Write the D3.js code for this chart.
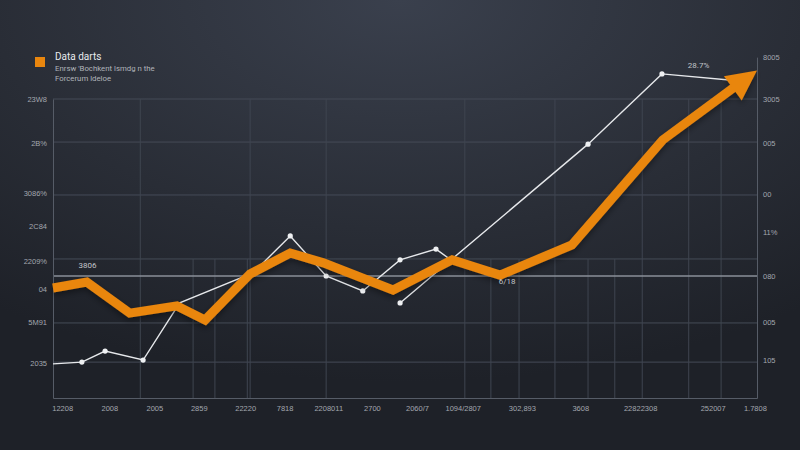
<!DOCTYPE html>
<html>
<head>
<meta charset="utf-8">
<script src="https://cdn.jsdelivr.net/npm/d3@7"></script>
<style>
  body { margin: 0; background: #23262e; }
  svg { display: block; font-family: Roboto, "DejaVu Sans", sans-serif; }
</style>
</head>
<body>
<svg id="chart"></svg>
<script>
// ---- data ----
const orangeX = [0, 4.8, 10.9, 17.6, 21.6, 28.0, 33.7, 38.4, 48.3, 56.7, 63.5, 73.7, 86.6, 100];
const orangeY = [36.8, 38.8, 28.4, 30.8, 26.1, 41.5, 48.5, 45.2, 36.1, 46.2, 41.1, 51.2, 86.3, 109.5];

const whiteAX = [0, 4.1, 7.4, 12.8, 18.0, 28.4, 33.7, 38.8, 44.0, 49.3, 54.4, 57.1];
const whiteAY = [11.4, 12.0, 15.7, 12.7, 31.8, 41.8, 54.2, 40.8, 35.8, 46.2, 49.8, 45.2];
const whiteADot = [false, true, true, true, false, false, true, true, true, true, true, false];

const whiteBX = [49.3, 76.0, 86.5, 97.6];
const whiteBY = [31.8, 84.9, 108.4, 106.0];
const whiteBDot = [true, true, true, false];

const leftTicks = [100, 85.3, 68.6, 57.5, 45.8, 36.5, 25.4, 11.7];
const leftLabels = ["23W8", "2B%", "3086%", "2C84", "2209%", "04", "5M91", "2035"];

const rightTicks = [114, 100, 85.3, 68.2, 55.5, 40.8, 25.4, 12.7];
const rightLabels = ["8005", "3005", "005", "00", "11%", "080", "005", "105"];

const bottomTicks = [1.3, 8.0, 14.4, 20.7, 27.3, 32.9, 39.1, 45.3, 51.7, 58.2, 66.6, 74.9, 83.4, 93.7, 99.7];
const bottomLabels = ["12208", "2008", "2005", "2859", "22220", "7818", "2208011", "2700",
  "2060/7", "1094/2807", "302,893", "3608", "22822308", "252007", "1.7808"];

const hGrid = [100, 85.6, 67.9, 46.5, 25.1, 12.0];
const refLine = 40.8;
const vGridFull = [12.4, 28.0, 38.8, 58.5, 71.3, 83.7, 90.3, 94.9];
const vGridPart = [19.9, 23.0, 27.6, 62.2, 66.2, 76.0, 79.8];

const notes = [
  { x: 4.9, y: 43.5, text: "3806" },
  { x: 91.7, y: 110.5, text: "28.7%" },
  { x: 64.5, y: 38.0, text: "6/18" },
];

// ---- layout ----
const W = 800, H = 450;
const margin = { top: 99, right: 43, bottom: 52, left: 53 };

const svg = d3.select("#chart").attr("width", W).attr("height", H);

const defs = svg.append("defs");
const bg = defs.append("radialGradient").attr("id", "bg")
  .attr("cx", "50%").attr("cy", "0%").attr("r", "85%");
bg.append("stop").attr("offset", "0%").attr("stop-color", "#3a404d");
bg.append("stop").attr("offset", "60%").attr("stop-color", "#292d36");
bg.append("stop").attr("offset", "100%").attr("stop-color", "#1e2128");

const shadow = defs.append("filter").attr("id", "shadow")
  .attr("x", "-10%").attr("y", "-10%").attr("width", "120%").attr("height", "130%");
shadow.append("feDropShadow").attr("dx", 0).attr("dy", 3).attr("stdDeviation", 3)
  .attr("flood-color", "#000").attr("flood-opacity", 0.4);

svg.append("rect").attr("width", W).attr("height", H).attr("fill", "url(#bg)");

const x = d3.scaleLinear().domain([0, 100]).range([margin.left, W - margin.right]);
const y = d3.scaleLinear().domain([0, 100]).range([H - margin.bottom, margin.top]);

const grid = svg.append("g");

// horizontal grid
grid.selectAll("line.h").data(hGrid).join("line")
  .attr("x1", x(0)).attr("x2", x(100))
  .attr("y1", (d) => y(d)).attr("y2", (d) => y(d))
  .attr("stroke", "#454b57").attr("stroke-width", 1);

// vertical grid
grid.selectAll("line.vf").data(vGridFull).enter().append("line")
  .attr("x1", (d) => x(d)).attr("x2", (d) => x(d))
  .attr("y1", y(100)).attr("y2", y(0))
  .attr("stroke", "#3f4550").attr("stroke-width", 1);
grid.selectAll("line.vp").data(vGridPart).enter().append("line")
  .attr("x1", (d) => x(d)).attr("x2", (d) => x(d))
  .attr("y1", y(46.5)).attr("y2", y(0))
  .attr("stroke", "#3f4550").attr("stroke-width", 1);

// reference line
svg.append("line")
  .attr("x1", x(0)).attr("x2", x(100))
  .attr("y1", y(refLine)).attr("y2", y(refLine))
  .attr("stroke", "#8a8f98").attr("stroke-width", 1.3);

// axes
const yLeft = d3.axisLeft(y).tickValues(leftTicks).tickSize(0).tickPadding(6)
  .tickFormat((d, i) => leftLabels[i]);
const yRight = d3.axisRight(d3.scaleLinear().domain([0, 114]).range([y(0), y(114)]))
  .tickValues(rightTicks).tickSize(0).tickPadding(6)
  .tickFormat((d, i) => rightLabels[i]);
const xBottom = d3.axisBottom(x).tickValues(bottomTicks).tickSize(0).tickPadding(8)
  .tickFormat((d, i) => bottomLabels[i]);

function styleAxis(g) {
  g.select(".domain").attr("stroke", "#565c67");
  g.selectAll("text").attr("fill", "#a3a7af").style("font-size", "7.5px");
}
svg.append("g").attr("transform", `translate(${x(0)},0)`).call(yLeft).call(styleAxis);
svg.append("g").attr("transform", `translate(${x(100)},0)`).call(yRight).call(styleAxis);
svg.append("g").attr("transform", `translate(0,${y(0)})`).call(xBottom).call(styleAxis);

// white lines
const line = d3.line().x((d) => x(d[0])).y((d) => y(d[1]));
const whiteA = whiteAX.map((d, i) => [d, whiteAY[i], whiteADot[i]]);
const whiteB = whiteBX.map((d, i) => [d, whiteBY[i], whiteBDot[i]]);

[whiteA, whiteB].forEach((series) => {
  svg.append("path").datum(series)
    .attr("d", line)
    .attr("fill", "none")
    .attr("stroke", "#e6e8eb")
    .attr("stroke-width", 1.4);
  svg.append("g").selectAll("circle").data(series.filter((d) => d[2])).join("circle")
    .attr("cx", (d) => x(d[0])).attr("cy", (d) => y(d[1]))
    .attr("r", 2.6).attr("fill", "#eef0f2");
});

// orange line with arrow head
const orange = orangeX.map((d, i) => [d, orangeY[i]]);
const n = orange.length;
const tip = [x(orange[n - 1][0]), y(orange[n - 1][1])];
const prev = [x(orange[n - 2][0]), y(orange[n - 2][1])];
const ang = Math.atan2(tip[1] - prev[1], tip[0] - prev[0]);
const headLen = 30, headHalf = 15;
const base = [tip[0] - headLen * Math.cos(ang), tip[1] - headLen * Math.sin(ang)];

const pts = orange.slice(0, n - 1).map((d) => [x(d[0]), y(d[1])]);
pts.push([base[0] + 4 * Math.cos(ang), base[1] + 4 * Math.sin(ang)]);

const og = svg.append("g").attr("filter", "url(#shadow)");
og.append("path").datum(pts)
  .attr("d", d3.line())
  .attr("fill", "none")
  .attr("stroke", "#e9860e")
  .attr("stroke-width", 9)
  .attr("stroke-linejoin", "miter")
  .attr("stroke-linecap", "butt");
og.append("path")
  .attr("d", d3.line()([
    tip,
    [base[0] + headHalf * Math.sin(ang), base[1] - headHalf * Math.cos(ang)],
    [base[0] - headHalf * Math.sin(ang), base[1] + headHalf * Math.cos(ang)],
  ]) + "Z")
  .attr("fill", "#e9860e");

// annotations
svg.append("g").selectAll("text").data(notes).join("text")
  .attr("x", (d) => x(d.x)).attr("y", (d) => y(d.y))
  .attr("text-anchor", "middle")
  .attr("fill", "#c2c5cb")
  .style("font-size", "8px")
  .text((d) => d.text);

// legend
const legend = svg.append("g").attr("transform", "translate(35,57)");
legend.append("rect").attr("width", 10).attr("height", 10).attr("fill", "#e9860e");
legend.append("text").attr("x", 20).attr("y", 3)
  .attr("fill", "#e8eaed").style("font-size", "10px")
  .text("Data darts");
legend.append("text").attr("x", 20).attr("y", 14)
  .attr("fill", "#b0b4ba").style("font-size", "7.8px")
  .text("Enrsw 'Bochkent lsmdg n the");
legend.append("text").attr("x", 20).attr("y", 24)
  .attr("fill", "#b0b4ba").style("font-size", "7.8px")
  .text("Forcerum ldeloe");
</script>
</body>
</html>
